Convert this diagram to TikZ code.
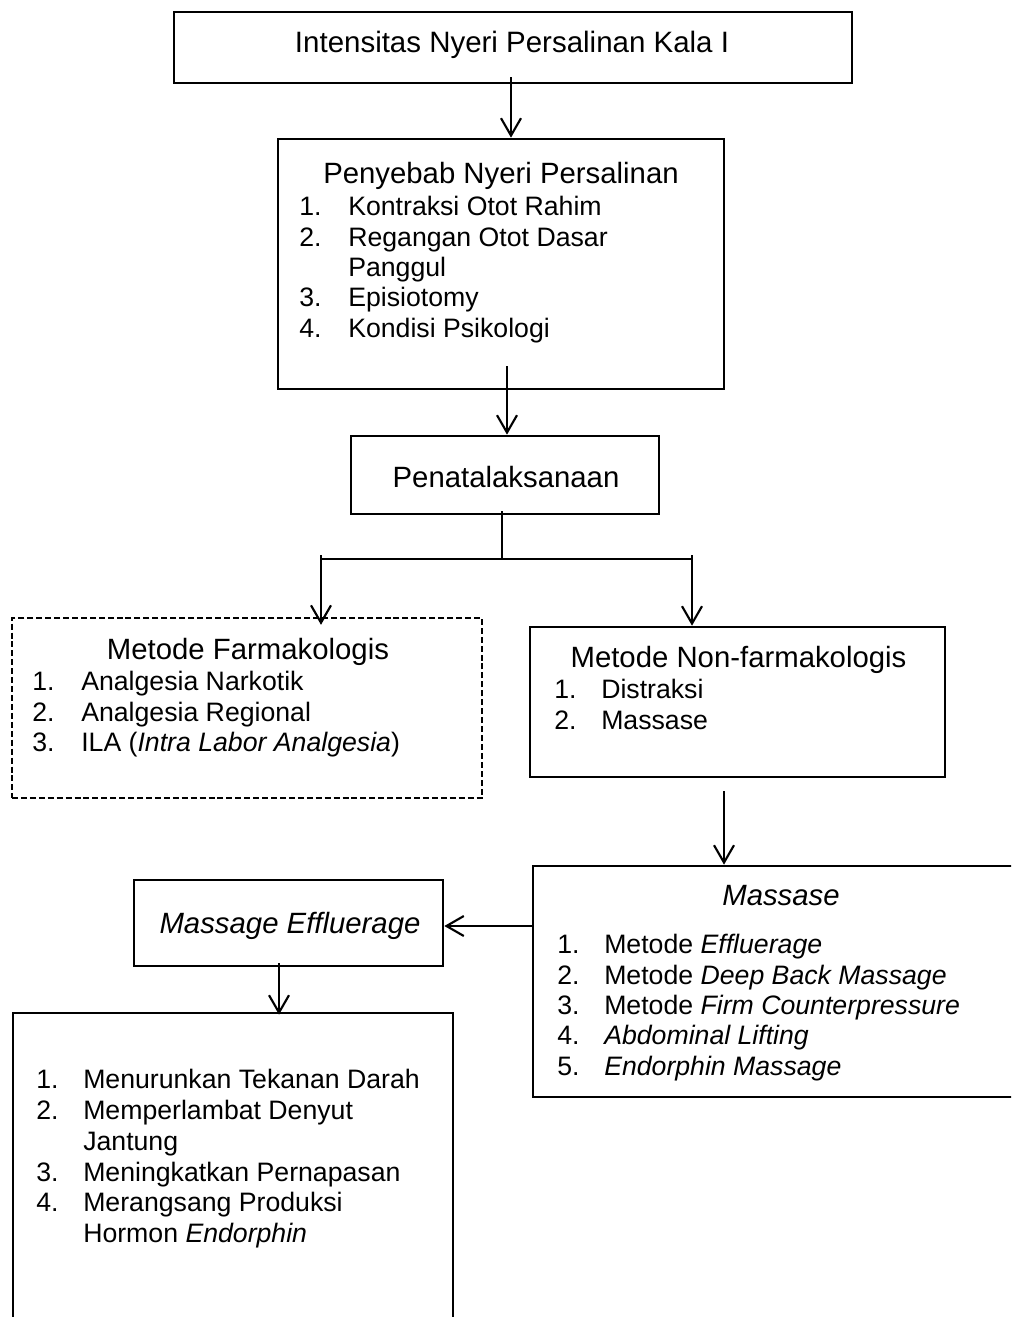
\documentclass[tikz,border=0pt]{standalone}
\usepackage{fontspec}
\setmainfont{Liberation Sans}
\usetikzlibrary{arrows.meta,calc}
\tikzset{
  box/.style={draw, line width=2pt, rectangle, inner sep=0pt},
  dbox/.style={box, line width=1.8pt, dash pattern=on 4.5pt off 2.2pt},
  conn/.style={line width=1.6pt, -{Straight Barb[length=13pt,width=15pt,line width=1.6pt]}},
  plainline/.style={line width=1.8pt},
  ttl/.style={anchor=base, inner sep=0pt, font=\fontsize{22}{25}\selectfont},
  bigttl/.style={anchor=base, inner sep=0pt, font=\fontsize{22.1}{25}\selectfont},
  itm/.style={anchor=base west, inner sep=0pt, font=\fontsize{20}{23}\selectfont},
}
\begin{document}
\begin{tikzpicture}[x=0.75pt,y=-0.75pt]
\useasboundingbox (0,0) rectangle (1011,1317);
\clip (0,0) rectangle (1011,1317);

% boxes
\node[box, minimum width=508.5pt, minimum height=53.25pt] (box1) at (513,47.5) {};
\node[box, minimum width=334.5pt, minimum height=187.5pt] (box2) at (501,264) {};
\node[box, minimum width=231pt, minimum height=58.5pt] (box3) at (505,475) {};
\node[dbox, minimum width=352.5pt, minimum height=135pt] (farm) at (247,708) {};
\node[box, minimum width=311.25pt, minimum height=112.5pt] (nonfarm) at (737.5,702) {};
\node[box, minimum width=372.75pt, minimum height=173.25pt] (massase) at (781.5,981.5) {};
\node[box, minimum width=231.75pt, minimum height=64.5pt] (eff) at (288.5,923) {};
\node[box, minimum width=330pt, minimum height=249pt] (bottom) at (233,1179) {};

% box 1
\node[bigttl] (t1) at (512,52) {Intensitas Nyeri Persalinan Kala I};

% box 2
\node[ttl] (t2) at (501,183) {Penyebab Nyeri Persalinan};
\node[itm] (b2n1) at (299,215) {1.};
\node[itm] (b2t1) at (348,215) {Kontraksi Otot Rahim};
\node[itm] (b2n2) at (299,246) {2.};
\node[itm] (b2t2) at (348,246) {Regangan Otot Dasar};
\node[itm] (b2t2b) at (348,276) {Panggul};
\node[itm] (b2n3) at (299,306) {3.};
\node[itm] (b2t3) at (348,306) {Episiotomy};
\node[itm] (b2n4) at (299,337) {4.};
\node[itm] (b2t4) at (348,337) {Kondisi Psikologi};

% box 3
\node[ttl] (t3) at (506,487) {Penatalaksanaan};

% farmakologis
\node[ttl] (t4) at (248,659) {Metode Farmakologis};
\node[itm] (fn1) at (32,690) {1.};
\node[itm] (ft1) at (81,690) {Analgesia Narkotik};
\node[itm] (fn2) at (32,721) {2.};
\node[itm] (ft2) at (81,721) {Analgesia Regional};
\node[itm] (fn3) at (32,751.5) {3.};
\node[itm] (ft3) at (81,751.5) {ILA (\textit{Intra Labor Analgesia})};

% non-farmakologis
\node[ttl] (t5) at (738.5,667) {Metode Non-farmakologis};
\node[itm] (nn1) at (554,698) {1.};
\node[itm] (nt1) at (601,698) {Distraksi};
\node[itm] (nn2) at (554,729) {2.};
\node[itm] (nt2) at (601,729) {Massase};

% massase
\node[ttl] (t6) at (781,905) {\textit{Massase}};
\node[itm] (mn1) at (557,953) {1.};
\node[itm] (mt1) at (604,953) {Metode \textit{Effluerage}};
\node[itm] (mn2) at (557,984) {2.};
\node[itm] (mt2) at (604,984) {Metode \textit{Deep Back Massage}};
\node[itm] (mn3) at (557,1014) {3.};
\node[itm] (mt3) at (604,1014) {Metode \textit{Firm Counterpressure}};
\node[itm] (mn4) at (557,1044.5) {4.};
\node[itm] (mt4) at (604,1044.5) {\textit{Abdominal Lifting}};
\node[itm] (mn5) at (557,1075) {5.};
\node[itm] (mt5) at (604,1075) {\textit{Endorphin Massage}};

% massage effluerage
\node[ttl] (t7) at (290,933) {\textit{Massage Effluerage}};

% bottom
\node[itm] (bn1) at (36,1088) {1.};
\node[itm] (bt1) at (83,1088) {Menurunkan Tekanan Darah};
\node[itm] (bn2) at (36,1119) {2.};
\node[itm] (bt2) at (83,1119) {Memperlambat Denyut};
\node[itm] (bt2b) at (83,1150) {Jantung};
\node[itm] (bn3) at (36,1181) {3.};
\node[itm] (bt3) at (83,1181) {Meningkatkan Pernapasan};
\node[itm] (bn4) at (36,1211.5) {4.};
\node[itm] (bt4) at (83,1211.5) {Merangsang Produksi};
\node[itm] (bt4b) at (83,1242) {Hormon \textit{Endorphin}};

% connectors
\draw[conn] ($(box1.south)+(-2,-7)$) coordinate (a1) -- (a1 |- box2.north);
\draw[conn] ($(box2.south)+(6,-24)$) coordinate (a2) -- (a2 |- box3.north);
\coordinate (bar) at ($(box3.south)+(-3,45)$);
\coordinate (barL) at (321,559);
\coordinate (barR) at (692,559);
\draw[plainline] ($(box3.south)+(-3,-4)$) -- (bar);
\draw[plainline] (barL) -- (barR);
\draw[conn] ($(barL)+(0,-4)$) -- ($(barL |- farm.north)+(0,8)$);
\draw[conn] ($(barR)+(0,-4)$) -- (barR |- nonfarm.north);
\draw[conn] ($(nonfarm.south)+(-13.5,13)$) coordinate (a4) -- (a4 |- massase.north);
\draw[conn] ($(massase.west)+(0,-55.5)$) coordinate (a5) -- (a5 -| eff.east);
\draw[conn] ($(eff.south)+(-9.5,-4)$) coordinate (a6) -- ($(a6 |- bottom.north)+(0,3)$);
\end{tikzpicture}
\end{document}
